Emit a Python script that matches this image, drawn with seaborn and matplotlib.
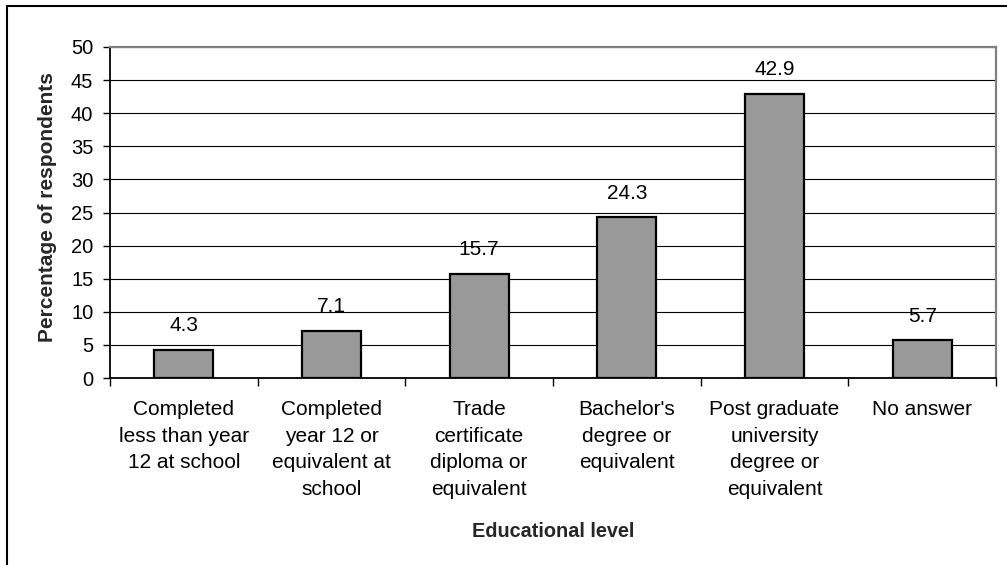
import matplotlib
matplotlib.use("Agg")
import matplotlib.pyplot as plt
from matplotlib.lines import Line2D
import seaborn as sns
import pandas as pd

categories = [
    "Completed\nless than year\n12 at school",
    "Completed\nyear 12 or\nequivalent at\nschool",
    "Trade\ncertificate\ndiploma or\nequivalent",
    "Bachelor's\ndegree or\nequivalent",
    "Post graduate\nuniversity\ndegree or\nequivalent",
    "No answer",
]
percentages = [4.3, 7.1, 15.7, 24.3, 42.9, 5.7]
y_ticks = [0, 5, 10, 15, 20, 25, 30, 35, 40, 45, 50]

sns.set_theme(style="white")
plt.rcParams["font.family"] = ["Liberation Sans", "DejaVu Sans"]

fig = plt.figure(figsize=(10.07, 5.65), dpi=100)
ax = fig.add_axes([110 / 1007, 1 - 378 / 565, 886 / 1007, 331 / 565])

df = pd.DataFrame({"level": categories, "pct": percentages})
sns.barplot(data=df, x="level", y="pct", ax=ax, color="#999999",
            saturation=1, width=0.4, edgecolor="black", linewidth=1.6)

ax.set_xlim(-0.5, len(categories) - 0.5)
ax.set_ylim(0, 50)
ax.set_yticks(y_ticks)
ax.yaxis.grid(True, color="black", linewidth=0.8)
ax.set_axisbelow(True)

for i, v in enumerate(percentages):
    ax.annotate(f"{v}", (i, v), xytext=(0, 10.5), textcoords="offset points",
                ha="center", va="bottom", fontsize=15, color="black")

# spines: black left/bottom, grey frame top/right
for side in ["left", "bottom"]:
    ax.spines[side].set_color("black")
    ax.spines[side].set_linewidth(1.3)
for side in ["top", "right"]:
    ax.spines[side].set_color("#808080")
    ax.spines[side].set_linewidth(1.6)

ax.tick_params(axis="y", which="major", left=True, length=5, width=1,
               color="black", labelsize=14.5, pad=7, labelcolor="black")
ax.set_xticks(range(len(categories)))
ax.set_xticklabels(categories, linespacing=1.5)
ax.tick_params(axis="x", which="major", bottom=False, length=0,
               labelsize=15, pad=16, labelcolor="black")
ax.set_xticks([i - 0.5 for i in range(len(categories) + 1)], minor=True)
ax.tick_params(axis="x", which="minor", bottom=True, length=6, width=1,
               color="black")
for lbl in ax.get_xticklabels():
    lbl.set_verticalalignment("top")

ax.set_xlabel("Educational level", fontsize=14.3, fontweight="bold")
ax.set_ylabel("Percentage of respondents", fontsize=15, fontweight="bold")
ax.xaxis.set_label_coords(0.5, -0.435)
ax.yaxis.set_label_coords(-0.06, 0.515)

# outer chart frame (top and left edges visible)
fig.add_artist(Line2D([7 / 1007, 1.0], [1 - 6 / 565, 1 - 6 / 565],
                      transform=fig.transFigure, color="black", linewidth=1.5))
fig.add_artist(Line2D([7 / 1007, 7 / 1007], [0.0, 1 - 6 / 565],
                      transform=fig.transFigure, color="black", linewidth=1.5))

fig.savefig("out.png", dpi=100, facecolor="white")
